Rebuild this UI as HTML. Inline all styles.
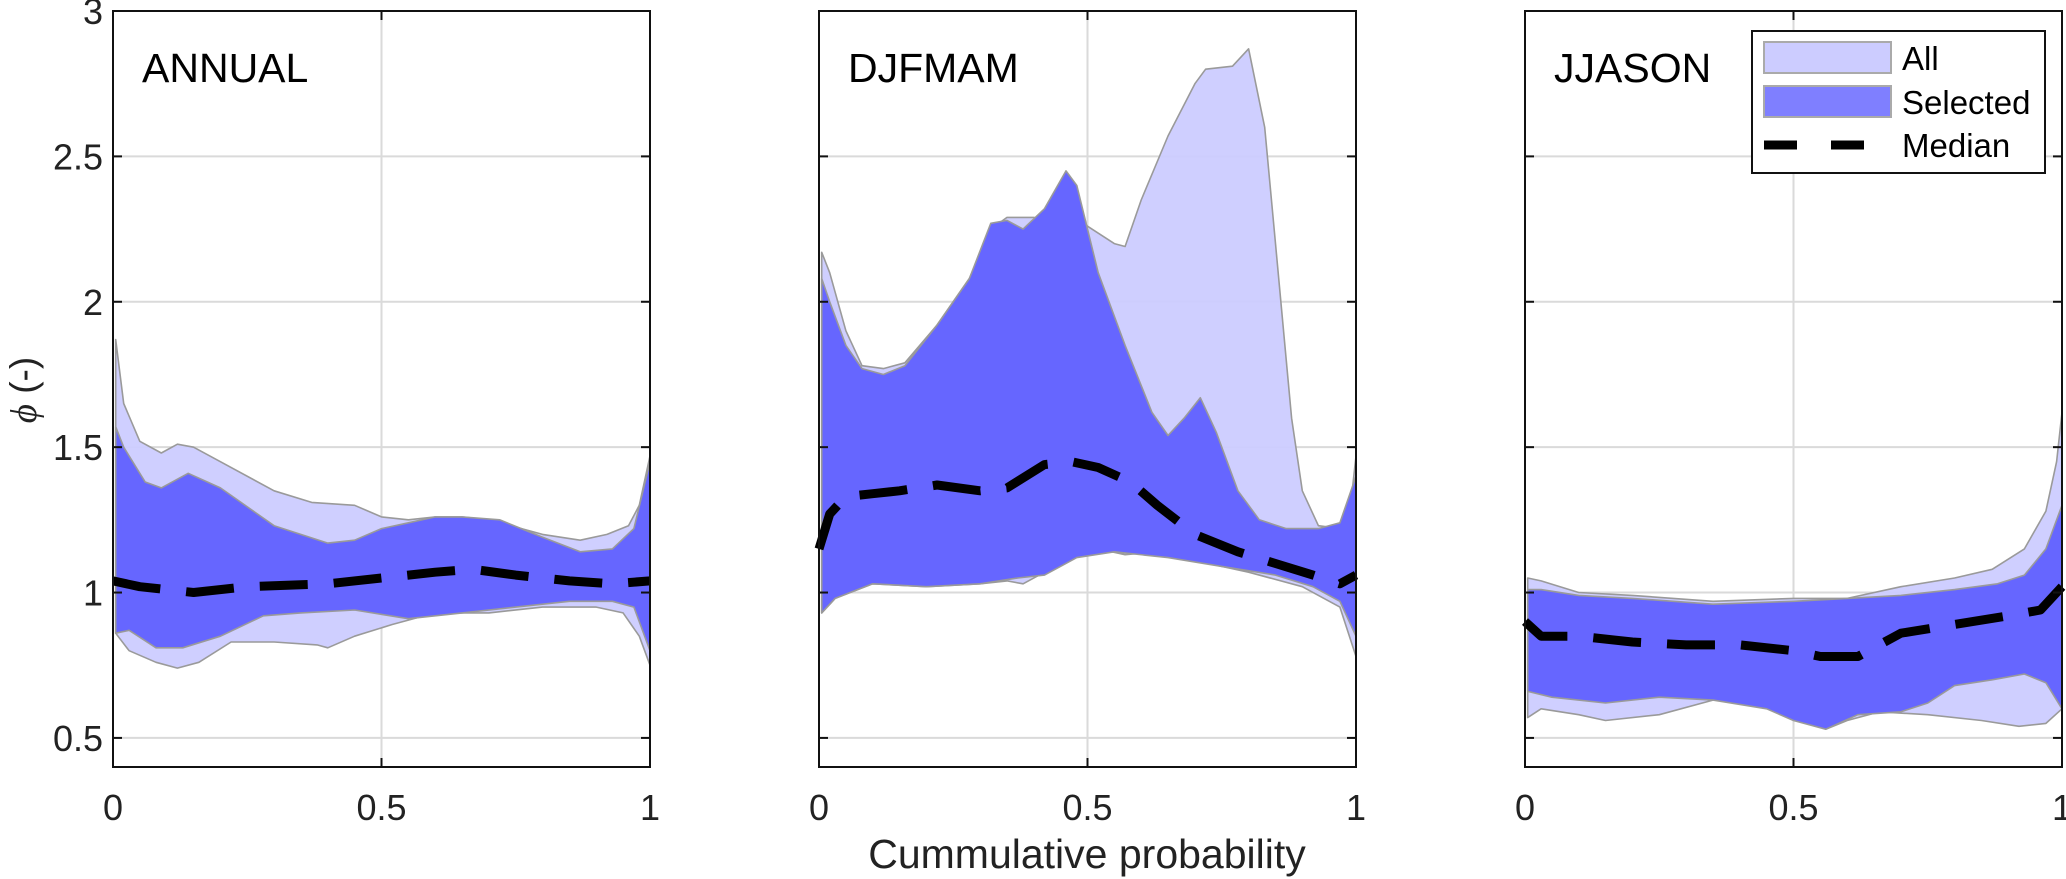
<!DOCTYPE html>
<html><head><meta charset="utf-8"><style>
html,body{margin:0;padding:0;background:#fff;}
svg{display:block;font-family:"Liberation Sans",Arial,sans-serif;}
</style></head><body>
<svg id="chart" width="2066" height="879" viewBox="0 0 2066 879" xmlns="http://www.w3.org/2000/svg"></svg>
<script>
// ---- data (x = cumulative probability, v = phi) ----
const panelTitles = ["ANNUAL", "DJFMAM", "JJASON"];
const yTicks = [0.5, 1, 1.5, 2, 2.5, 3];
const yTickLabels = ["0.5", "1", "1.5", "2", "2.5", "3"];
const xTicks = [0, 0.5, 1];
const xTickLabels = ["0", "0.5", "1"];

const annualAllUpper = [[0.005,1.87],[0.02,1.65],[0.05,1.52],[0.09,1.48],[0.12,1.51],[0.15,1.50],[0.2,1.45],[0.3,1.35],[0.37,1.31],[0.45,1.30],[0.5,1.26],[0.55,1.25],[0.6,1.26],[0.65,1.26],[0.7,1.25],[0.8,1.20],[0.87,1.18],[0.92,1.20],[0.96,1.23],[0.98,1.30],[1.0,1.47]];
const annualAllLower = [[0.005,0.86],[0.03,0.80],[0.08,0.76],[0.12,0.74],[0.16,0.76],[0.22,0.83],[0.3,0.83],[0.38,0.82],[0.4,0.81],[0.45,0.85],[0.52,0.89],[0.6,0.93],[0.7,0.93],[0.8,0.95],[0.9,0.95],[0.95,0.93],[0.98,0.85],[1.0,0.75]];
const annualSelUpper = [[0.005,1.57],[0.02,1.50],[0.06,1.38],[0.09,1.36],[0.14,1.41],[0.2,1.36],[0.3,1.23],[0.4,1.17],[0.45,1.18],[0.5,1.22],[0.55,1.24],[0.6,1.26],[0.65,1.26],[0.72,1.25],[0.8,1.19],[0.87,1.14],[0.93,1.15],[0.97,1.22],[1.0,1.45]];
const annualSelLower = [[0.005,0.86],[0.03,0.87],[0.08,0.81],[0.13,0.81],[0.2,0.85],[0.28,0.92],[0.35,0.93],[0.45,0.94],[0.55,0.91],[0.65,0.93],[0.75,0.95],[0.85,0.97],[0.93,0.97],[0.97,0.95],[1.0,0.80]];
const annualMedian = [[0,1.04],[0.05,1.02],[0.15,1.00],[0.25,1.02],[0.4,1.03],[0.5,1.05],[0.6,1.07],[0.67,1.08],[0.75,1.06],[0.85,1.04],[0.93,1.03],[1.0,1.04]];

const djfAllUpper = [[0.005,2.17],[0.02,2.10],[0.05,1.90],[0.08,1.78],[0.12,1.77],[0.16,1.79],[0.22,1.92],[0.28,2.08],[0.32,2.25],[0.35,2.29],[0.4,2.29],[0.43,2.28],[0.47,2.33],[0.5,2.26],[0.55,2.20],[0.57,2.19],[0.6,2.35],[0.65,2.57],[0.7,2.75],[0.72,2.80],[0.77,2.81],[0.8,2.87],[0.83,2.6],[0.85,2.2],[0.88,1.6],[0.9,1.35],[0.93,1.23],[0.97,1.22],[0.99,1.30],[1.0,1.47]];
const djfAllLower = [[0.005,0.93],[0.03,0.98],[0.1,1.03],[0.2,1.02],[0.3,1.03],[0.35,1.04],[0.38,1.03],[0.42,1.07],[0.48,1.13],[0.52,1.15],[0.57,1.13],[0.63,1.14],[0.7,1.11],[0.8,1.07],[0.9,1.02],[0.97,0.95],[1.0,0.78]];
const djfSelUpper = [[0.005,2.08],[0.02,2.00],[0.05,1.85],[0.08,1.77],[0.12,1.75],[0.16,1.78],[0.22,1.92],[0.28,2.08],[0.32,2.27],[0.35,2.28],[0.38,2.25],[0.42,2.32],[0.46,2.45],[0.48,2.40],[0.52,2.10],[0.57,1.85],[0.62,1.62],[0.65,1.54],[0.68,1.60],[0.71,1.67],[0.74,1.55],[0.78,1.35],[0.82,1.25],[0.87,1.22],[0.93,1.22],[0.97,1.24],[1.0,1.40]];
const djfSelLower = [[0.005,0.93],[0.03,0.98],[0.1,1.03],[0.2,1.02],[0.3,1.03],[0.37,1.05],[0.42,1.06],[0.48,1.12],[0.55,1.14],[0.65,1.12],[0.75,1.09],[0.85,1.06],[0.92,1.02],[0.97,0.97],[1.0,0.85]];
const djfMedian = [[0,1.15],[0.02,1.27],[0.05,1.33],[0.1,1.34],[0.15,1.35],[0.22,1.37],[0.3,1.35],[0.35,1.36],[0.42,1.44],[0.47,1.45],[0.52,1.43],[0.58,1.38],[0.63,1.30],[0.7,1.20],[0.78,1.14],[0.85,1.10],[0.92,1.06],[0.97,1.03],[1.0,1.06]];

const jjaAllUpper = [[0.005,1.05],[0.03,1.04],[0.1,1.00],[0.2,0.99],[0.35,0.97],[0.5,0.98],[0.6,0.98],[0.7,1.02],[0.8,1.05],[0.87,1.08],[0.93,1.15],[0.97,1.28],[0.99,1.45],[1.0,1.62]];
const jjaAllLower = [[0.005,0.57],[0.03,0.60],[0.1,0.58],[0.15,0.56],[0.25,0.58],[0.35,0.63],[0.45,0.64],[0.5,0.60],[0.56,0.53],[0.6,0.56],[0.66,0.59],[0.75,0.58],[0.85,0.56],[0.92,0.54],[0.97,0.55],[1.0,0.60]];
const jjaSelUpper = [[0.005,1.01],[0.03,1.01],[0.1,0.99],[0.2,0.98],[0.35,0.96],[0.5,0.97],[0.6,0.98],[0.7,0.99],[0.8,1.01],[0.88,1.03],[0.93,1.06],[0.97,1.15],[1.0,1.30]];
const jjaSelLower = [[0.005,0.66],[0.05,0.64],[0.15,0.62],[0.25,0.64],[0.35,0.63],[0.45,0.60],[0.5,0.56],[0.56,0.53],[0.62,0.58],[0.7,0.59],[0.75,0.62],[0.8,0.68],[0.87,0.70],[0.93,0.72],[0.97,0.69],[1.0,0.60]];
const jjaMedian = [[0,0.90],[0.03,0.85],[0.1,0.85],[0.2,0.83],[0.3,0.82],[0.4,0.82],[0.5,0.80],[0.55,0.78],[0.62,0.78],[0.7,0.86],[0.8,0.89],[0.9,0.92],[0.96,0.94],[1.0,1.02]];

// ---- layout ----
const NS = "http://www.w3.org/2000/svg";
const svg = document.getElementById("chart");
const panelLeft = [113, 819, 1525];
const panelW = 537, plotTop = 11, plotBottom = 767;
const yMin = 0.4, yMax = 3;
function yScale(v){ return plotTop + (yMax - v) / (yMax - yMin) * (plotBottom - plotTop); }
function xScale(p, i){ return panelLeft[i] + p * panelW; }
function mk(tag, attrs, parent){ const e = document.createElementNS(NS, tag); for (const k in attrs) e.setAttribute(k, attrs[k]); (parent||svg).appendChild(e); return e; }

const panels = [
  {key:"annual", allU:annualAllUpper, allL:annualAllLower, selU:annualSelUpper, selL:annualSelLower, med:annualMedian},
  {key:"djfmam", allU:djfAllUpper, allL:djfAllLower, selU:djfSelUpper, selL:djfSelLower, med:djfMedian},
  {key:"jjason", allU:jjaAllUpper, allL:jjaAllLower, selU:jjaSelUpper, selL:jjaSelLower, med:jjaMedian}
];

panels.forEach((pd, i) => {
  const g = mk("g", {});
  
  
  const x0 = panelLeft[i], x1 = x0 + panelW;
  yTicks.forEach(t => {
    const l = mk("line", {x1:x0, x2:x1, y1:yScale(t), y2:yScale(t), stroke:"#dadada", "stroke-width":2}, g);
    
    
  });
  const gx = mk("line", {x1:xScale(0.5,i), x2:xScale(0.5,i), y1:plotTop, y2:plotBottom, stroke:"#dadada", "stroke-width":2}, g);
  
  

  function band(upper, lower, fill, op, name){
    const pts = upper.map(p => xScale(p[0],i).toFixed(1)+","+yScale(p[1]).toFixed(1))
      .concat(lower.slice().reverse().map(p => xScale(p[0],i).toFixed(1)+","+yScale(p[1]).toFixed(1)));
    const poly = mk("polygon", {points:pts.join(" "), fill:fill, "fill-opacity":op, stroke:"#9a9a9a", "stroke-width":1.6, "stroke-linejoin":"round"}, g);
    
    
  }
  band(pd.allU, pd.allL, "#ccccff", 0.95, "all-band");
  band(pd.selU, pd.selL, "#6666ff", 1, "selected-band");

  const med = mk("polyline", {points: pd.med.map(p => xScale(p[0],i).toFixed(1)+","+yScale(p[1]).toFixed(1)).join(" "), fill:"none", stroke:"#000", "stroke-width":9, "stroke-dasharray":"48 26", "stroke-linejoin":"round"}, g);
  
  

  const fr = mk("rect", {x:x0, y:plotTop, width:panelW, height:plotBottom-plotTop, fill:"none", stroke:"#111", "stroke-width":2}, g);
  
  
  yTicks.forEach(t => {
    const y = yScale(t);
    const a = mk("line", {x1:x0, x2:x0+9, y1:y, y2:y, stroke:"#111", "stroke-width":2}, g);
    
    
    const b = mk("line", {x1:x1-9, x2:x1, y1:y, y2:y, stroke:"#111", "stroke-width":2}, g);
    
    
  });
  xTicks.forEach((t, k) => {
    const x = xScale(t, i);
    const a = mk("line", {x1:x, x2:x, y1:plotTop, y2:plotTop+9, stroke:"#111", "stroke-width":2}, g);
    
    
    const b = mk("line", {x1:x, x2:x, y1:plotBottom-9, y2:plotBottom, stroke:"#111", "stroke-width":2}, g);
    
    
    const lab = mk("text", {x:x, y:820, "text-anchor":"middle", "font-size":36, fill:"#222"}, g);
    lab.textContent = xTickLabels[k];
    
    
  });
  const title = mk("text", {x:x0+29, y:82, "font-size":41, fill:"#000"}, g);
  title.textContent = panelTitles[i];
  
  
});

yTicks.forEach((t, k) => {
  const lab = mk("text", {x:103, y:yScale(t)+13, "text-anchor":"end", "font-size":36, fill:"#222"});
  lab.textContent = yTickLabels[k];
  
  
});
</script>
<svg style="position:absolute;left:0;top:0" width="2066" height="879">
  <text transform="translate(36,390) rotate(-90)" text-anchor="middle" font-size="37" fill="#222" font-family="Liberation Sans, sans-serif"><tspan font-family="Liberation Serif, serif" font-style="italic">ϕ</tspan> (-)</text>
  <text x="1087" y="868" text-anchor="middle" font-size="41" fill="#222" font-family="Liberation Sans, sans-serif">Cummulative probability</text>
  <g font-family="Liberation Sans, sans-serif" font-size="33">
    <rect x="1752" y="31" width="293" height="142" fill="#fff" stroke="#111" stroke-width="2"/>
    <rect x="1764" y="42" width="127" height="31" fill="#ccccff" stroke="#aaa" stroke-width="2"/>
    <text x="1902" y="70">All</text>
    <rect x="1764" y="86" width="127" height="31" fill="#7f7fff" stroke="#aaa" stroke-width="2"/>
    <text x="1902" y="114">Selected</text>
    <line x1="1764" y1="145" x2="1864" y2="145" stroke="#000" stroke-width="9" stroke-dasharray="33 34"/>
    <text x="1902" y="157">Median</text>
  </g>
</svg>
</body></html>
